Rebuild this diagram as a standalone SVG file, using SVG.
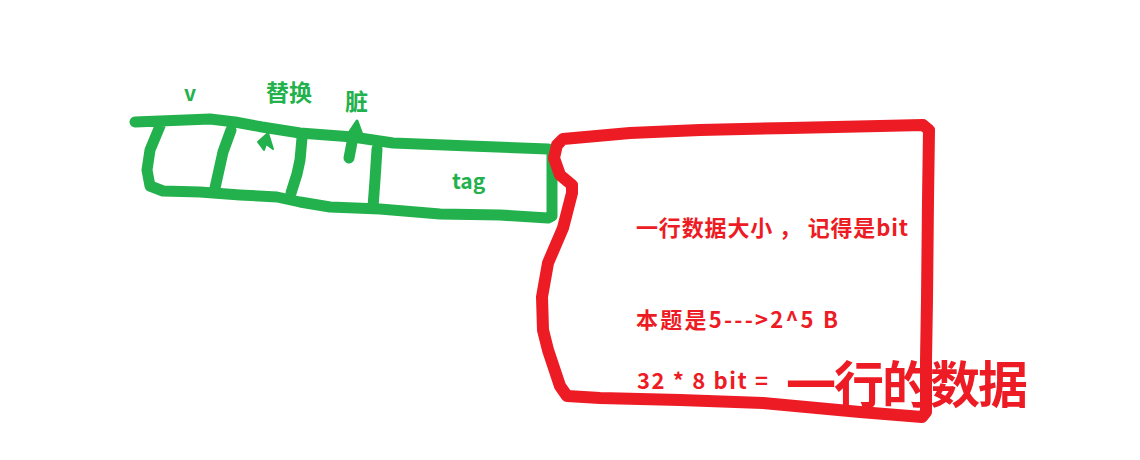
<svg xmlns="http://www.w3.org/2000/svg" width="1140" height="460" viewBox="0 0 1140 460">
<style>
.g{fill:none;stroke:#22b14c;stroke-width:11;stroke-linecap:round;stroke-linejoin:round}
.r{fill:none;stroke:#ed1c24;stroke-width:12;stroke-linecap:round;stroke-linejoin:round}
.gt{fill:#22b14c;font-family:"Noto Sans CJK SC","Liberation Sans",sans-serif;font-weight:bold}
.rt{fill:#ed1c24;font-family:"Noto Sans CJK SC","Liberation Sans",sans-serif;font-weight:bold}
</style>
<rect width="1140" height="460" fill="#ffffff"/>
<g id="cache-line">
<path class="g" d="M135,122 L210,119 L235,122 L262,127 L300,133 L353,137 L393,143 L470,146 L548,149 L552,152 L552,216 L548,218 L500,215 L440,214 L380,209 L330,207 L300,202 L277,197 L240,195 L200,192 L163,191 L150,186 L147,170 L150,150 L160,126"/>
<path class="g" d="M231,130 L223,152 L215,188"/>
<path class="g" d="M302,138 L300,160 L297,174 L291,193"/>
<path class="g" d="M377,149 L375,180 L373,207"/>
<path class="g" d="M349,158 L353,137"/>
<polygon points="347,136 357,121 362,135" fill="#22b14c" stroke="#22b14c" stroke-width="3" stroke-linejoin="round"/>
<polygon points="258,142 268,133 273,149 266,144 264,150" fill="#22b14c" stroke="#22b14c" stroke-width="2" stroke-linejoin="round"/>
</g>
<g id="labels-green">
<text class="gt" x="184" y="101" font-size="21">v</text>
<text class="gt" x="266" y="101" font-size="23">替换</text>
<text class="gt" x="345" y="110" font-size="23">脏</text>
<text class="gt" x="452" y="189" font-size="21">tag</text>
</g>
<g id="data-box">
<path class="r" d="M563,139 L630,133 L700,130 L790,128 L880,126 L923,125 L929,130 L928,200 L927,300 L926,360 L926,412 L922,417 L860,412 L763,403 L680,400 L600,398 L567,396 L560,386 L548,350 L543,330 L542,297 L548,263 L563,228 L572,193 L572,185 L560,175 L554,158 L557,145 L563,139"/>
</g>
<g id="labels-red">
<text class="rt" x="636" y="236" font-size="22" textLength="272" lengthAdjust="spacing">一行数据大小 ， 记得是bit</text>
<text class="rt" x="636" y="328" font-size="22" textLength="202" lengthAdjust="spacing">本题是5---&gt;2^5 B</text>
<text class="rt" x="637" y="389" font-size="22" textLength="131" lengthAdjust="spacing">32 * 8 bit =</text>
<text class="rt" x="786" y="403" font-size="50" textLength="242" lengthAdjust="spacing">一行的数据</text>
</g>
</svg>
